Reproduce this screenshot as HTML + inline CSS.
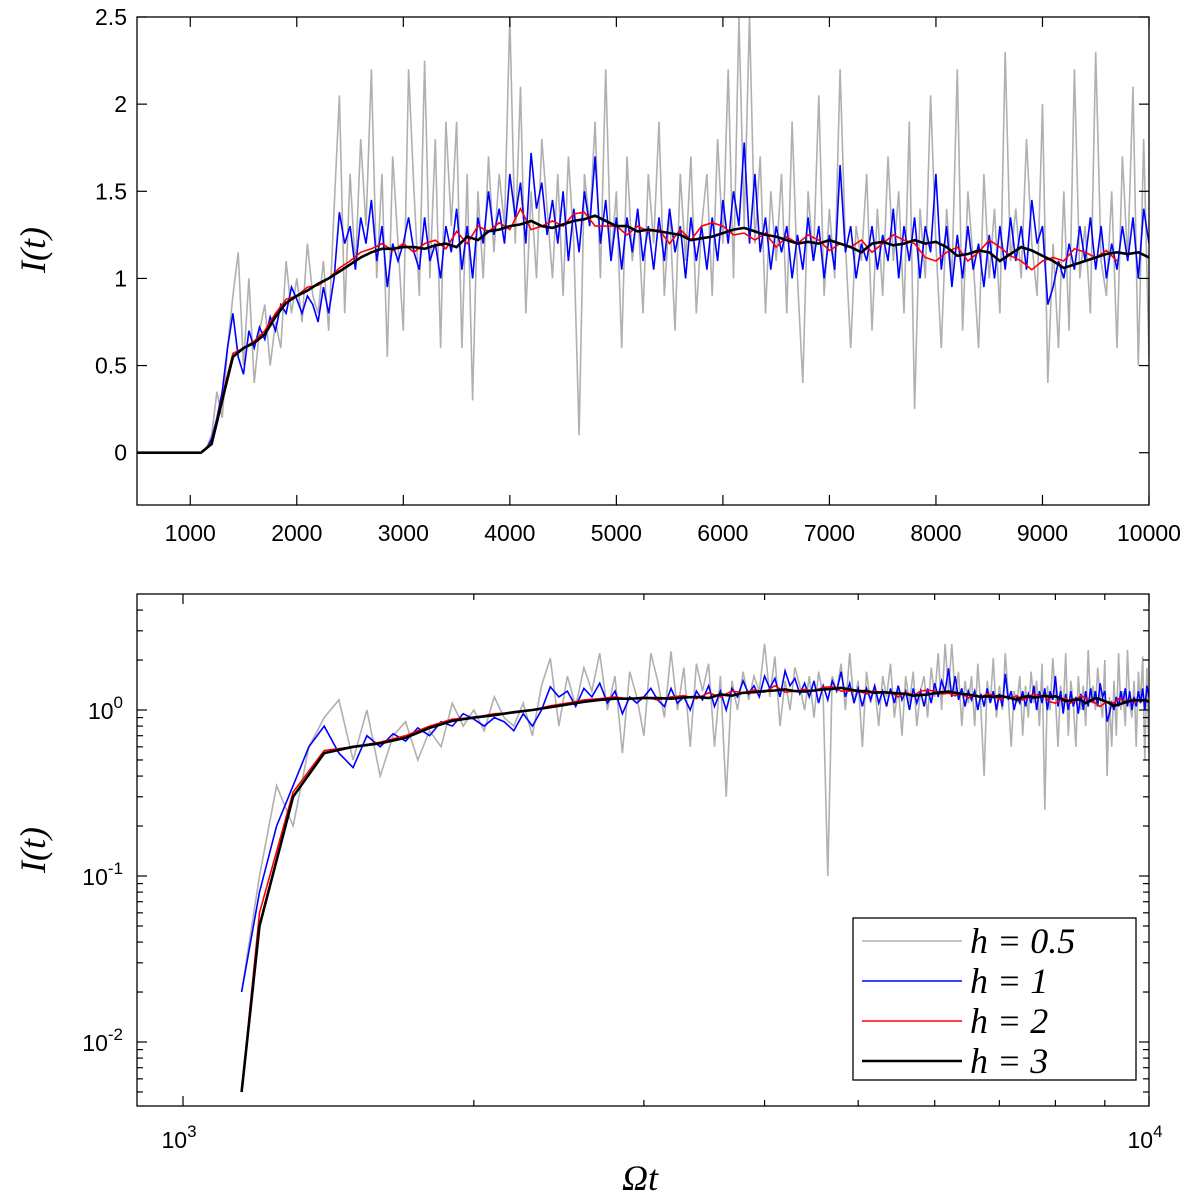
<!DOCTYPE html>
<html><head><meta charset="utf-8">
<style>
body{margin:0;background:#fff;}
svg{display:block;}
.tk{font-family:"Liberation Sans",sans-serif;font-size:23px;fill:#000;}
.lab{font-family:"Liberation Serif",serif;font-style:italic;font-size:36px;fill:#000;}
</style></head>
<body>
<svg id="chart" width="1200" height="1195" xmlns="http://www.w3.org/2000/svg"></svg>
<script>
const tStart = 500;
const grayValues = [0,0,0,0,0,0,0,0,0,0,0,0,0,
0.02,0.1,0.35,0.2,0.6,0.9,1.15,0.5,1.0,0.4,0.7,0.85,0.5,0.75,0.6,1.1,0.8,1.0,0.75,1.2,0.9,0.8,1.1,0.7,1.4,2.05,0.8,1.6,1.05,1.8,1.3,2.2,1.0,1.6,0.55,1.7,1.2,0.7,2.2,1.5,0.9,2.25,1.0,1.8,0.6,1.9,1.3,1.9,0.6,1.6,0.3,1.5,1.0,1.7,1.15,1.6,1.3,2.5,1.2,2.1,0.8,1.5,1.0,1.8,1.4,1.0,1.6,0.9,1.7,1.2,0.1,1.6,1.3,1.9,1.0,2.2,1.1,1.5,0.6,1.7,1.1,1.4,0.8,1.6,1.2,1.9,0.9,1.4,0.7,1.6,1.1,1.7,0.8,1.3,1.6,0.9,1.8,1.2,2.2,1.0,2.5,1.3,2.5,1.2,1.7,0.8,1.5,1.1,1.6,0.8,1.9,1.0,0.4,1.5,1.1,2.05,0.9,1.4,1.0,2.2,1.2,0.6,1.3,1.1,1.6,0.7,1.4,0.9,1.7,1.1,1.5,0.8,1.9,0.25,1.4,1.0,2.05,1.2,0.6,1.4,1.0,2.2,0.7,1.5,1.1,0.6,1.6,1.0,1.4,0.8,2.3,1.1,1.4,1.0,1.8,1.2,0.9,2.0,0.4,1.2,0.6,1.5,0.7,2.2,1.0,1.3,0.8,2.3,1.1,0.9,1.5,0.6,1.7,1.1,2.1,0.5,1.8,0.55];
const blueValues = [0,0,0,0,0,0,0,0,0,0,0,0,0,
0.02,0.08,0.2,0.35,0.6,0.8,0.55,0.45,0.7,0.6,0.72,0.65,0.78,0.7,0.85,0.8,0.95,0.88,0.8,0.9,0.85,0.75,0.95,0.8,1.0,1.38,1.2,1.3,1.05,1.35,1.2,1.45,1.1,1.3,0.95,1.2,1.1,1.2,1.35,1.15,1.05,1.35,1.1,1.2,1.0,1.3,1.15,1.4,1.05,1.3,1.0,1.35,1.2,1.5,1.25,1.4,1.2,1.6,1.35,1.55,1.2,1.72,1.4,1.55,1.25,1.45,1.2,1.5,1.1,1.4,1.15,1.5,1.3,1.7,1.2,1.45,1.1,1.35,1.05,1.35,1.15,1.4,1.1,1.3,1.05,1.35,1.1,1.4,1.15,1.3,1.0,1.35,1.1,1.3,1.05,1.35,1.1,1.45,1.2,1.5,1.3,1.78,1.2,1.6,1.15,1.35,1.05,1.3,1.15,1.3,1.0,1.25,1.05,1.35,1.1,1.3,1.0,1.25,1.05,1.65,1.15,1.3,1.0,1.2,1.1,1.3,1.05,1.25,1.1,1.4,1.0,1.3,1.1,1.35,1.0,1.3,1.15,1.6,1.05,1.3,0.95,1.25,1.0,1.3,1.05,1.2,0.95,1.25,1.0,1.3,1.05,1.35,1.1,1.3,1.05,1.45,1.2,1.3,0.85,0.95,1.1,1.0,1.2,1.05,1.3,1.1,1.35,1.05,1.3,1.0,1.2,1.05,1.3,1.1,1.35,1.0,1.4,1.2];
const redValues = [0,0,0,0,0,0,0,0.06,0.32,0.57,0.6,0.64,0.7,0.8,0.88,0.9,0.95,0.96,1.0,1.06,1.1,1.15,1.17,1.2,1.16,1.2,1.15,1.2,1.22,1.17,1.27,1.2,1.3,1.27,1.32,1.28,1.4,1.28,1.3,1.33,1.3,1.37,1.38,1.3,1.3,1.3,1.25,1.3,1.27,1.28,1.2,1.28,1.22,1.3,1.32,1.3,1.25,1.26,1.22,1.26,1.18,1.24,1.2,1.25,1.22,1.16,1.2,1.18,1.22,1.15,1.2,1.25,1.22,1.2,1.12,1.1,1.15,1.18,1.1,1.15,1.22,1.18,1.13,1.1,1.05,1.1,1.12,1.1,1.17,1.15,1.12,1.16,1.1];
const blackValues = [0,0,0,0,0,0,0,0.05,0.3,0.55,0.6,0.63,0.68,0.78,0.86,0.9,0.93,0.97,1.0,1.04,1.08,1.12,1.15,1.17,1.17,1.18,1.18,1.17,1.19,1.2,1.18,1.24,1.22,1.27,1.28,1.3,1.31,1.33,1.3,1.29,1.31,1.33,1.34,1.36,1.33,1.3,1.3,1.27,1.28,1.27,1.26,1.25,1.22,1.23,1.24,1.26,1.28,1.29,1.27,1.25,1.24,1.22,1.2,1.21,1.2,1.22,1.2,1.18,1.15,1.2,1.21,1.19,1.2,1.22,1.2,1.21,1.18,1.13,1.14,1.16,1.15,1.1,1.14,1.18,1.16,1.13,1.1,1.06,1.08,1.1,1.12,1.14,1.15,1.14,1.15,1.12];
const earlyT = [1150];
const earlyBlack = [0.005];
const topXTicks = [1000,2000,3000,4000,5000,6000,7000,8000,9000,10000];
const topYTicks = [0,0.5,1,1.5,2,2.5];
const topYLabels = ["0","0.5","1","1.5","2","2.5"];
const legendLabels = ["h = 0.5","h = 1","h = 2","h = 3"];

const svg = document.getElementById('chart');
const NS = 'http://www.w3.org/2000/svg';
function mk(tag, attrs, parent){const e=document.createElementNS(NS,tag);for(const k in attrs)e.setAttribute(k,attrs[k]);(parent||svg).appendChild(e);return e;}

const T = {x0:137,x1:1149,y0:17,y1:505,xmin:500,xmax:10000,ymin:-0.3,ymax:2.5};
const tx = v => T.x0+(v-T.xmin)/(T.xmax-T.xmin)*(T.x1-T.x0);
const ty = v => T.y1-(v-T.ymin)/(T.ymax-T.ymin)*(T.y1-T.y0);
const B = {x0:137,x1:1149,y0:594,y1:1106};
const bx = v => 183+(Math.log10(v)-3)*966;
const by = v => 710-Math.log10(v)*166;

const series = [
 {vals:grayValues,step:50,color:'#b0b0b0',w:1.6,name:'gray-series-h0.5'},
 {vals:blueValues,step:50,color:'#0000ff',w:1.6,name:'blue-series-h1'},
 {vals:redValues,step:100,color:'#ff0000',w:1.6,name:'red-series-h2',early:earlyBlack},
 {vals:blackValues,step:100,color:'#000000',w:2.6,name:'black-series-h3',early:earlyBlack}];

function clip(id,A){const c=mk('clipPath',{id:id});mk('rect',{x:A.x0,y:A.y0,width:A.x1-A.x0,height:A.y1-A.y0},c);}
clip('ct',T);clip('cb',B);

series.forEach(s=>{
  let d='';
  s.vals.forEach((v,i)=>{const t=tStart+i*s.step;d+=(i?'L':'M')+tx(t).toFixed(1)+','+ty(v).toFixed(1);});
  const p=mk('path',{d:d,fill:'none',stroke:s.color,'stroke-width':s.w,'clip-path':'url(#ct)'});
  
  
  const pts=[];
  if(s.early) s.early.forEach((v,i)=>pts.push([earlyT[i],v]));
  s.vals.forEach((v,i)=>{const t=tStart+i*s.step;if(v>0)pts.push([t,v]);});
  pts.sort((a,b)=>a[0]-b[0]);
  let d2='';
  pts.forEach((q,i)=>{d2+=(i?'L':'M')+bx(q[0]).toFixed(1)+','+by(q[1]).toFixed(1);});
  const p2=mk('path',{d:d2,fill:'none',stroke:s.color,'stroke-width':s.w,'clip-path':'url(#cb)'});
  
  
});

function frame(A,name){const r=mk('rect',{x:A.x0,y:A.y0,width:A.x1-A.x0,height:A.y1-A.y0,fill:'none',stroke:'#000','stroke-width':1.3});
 }
frame(T,'top-axes-frame');frame(B,'bottom-axes-frame');

function tick(x1,y1,x2,y2){mk('line',{x1:x1,y1:y1,x2:x2,y2:y2,stroke:'#000','stroke-width':1.2});}
function text(x,y,s,cls,anchor,name){const t=mk('text',{x:x,y:y,class:cls,'text-anchor':anchor||'middle'});t.textContent=s;return t;}

topXTicks.forEach(v=>{const x=tx(v);tick(x,T.y1,x,T.y1-10);tick(x,T.y0,x,T.y0+10);text(x,T.y1+36,String(v),'tk','middle','top-x-tick-label');});
topYTicks.forEach((v,i)=>{const y=ty(v);tick(T.x0,y,T.x0+10,y);tick(T.x1,y,T.x1-10,y);text(T.x0-10,y+8,topYLabels[i],'tk','end','top-y-tick-label');});
text(45,250,'I(t)','lab','middle','top-y-axis-title').setAttribute('transform','rotate(-90 45 250)');

for(let d=1;d<=10;d++){const v=d*1000;const x=bx(v);const L=(d===1||d===10)?10:6;tick(x,B.y1,x,B.y1-L);tick(x,B.y0,x,B.y0+L);}
[-3,-2,-1,0].forEach(e=>{for(let m=1;m<10;m++){const v=m*Math.pow(10,e);const y=by(v);if(y<B.y0||y>B.y1)continue;const L=m===1?10:6;tick(B.x0,y,B.x0+L,y);tick(B.x1,y,B.x1-L,y);}});
[0,-1,-2].forEach(e=>{const y=by(Math.pow(10,e));const t=text(B.x0-14,y+9,'10','tk','end','bottom-y-tick-label');const s=mk('tspan',{dy:-11,'font-size':17},t);s.textContent=String(e);});
[[1000,'3'],[10000,'4']].forEach(([v,e])=>{const t=text(bx(v)-4,1148,'10','tk','middle','bottom-x-tick-label');const s=mk('tspan',{dy:-11,'font-size':17},t);s.textContent=e;});
text(45,850,'I(t)','lab','middle','bottom-y-axis-title').setAttribute('transform','rotate(-90 45 850)');
text(640,1190,'Ωt','lab','middle','x-axis-title');

const lg=mk('g',{});
mk('rect',{x:853,y:918,width:283,height:162,fill:'#fff',stroke:'#000','stroke-width':1.3},lg);
legendLabels.forEach((s,i)=>{const y=941+i*40;
 const l=mk('line',{x1:862,y1:y,x2:962,y2:y,stroke:series[i].color,'stroke-width':series[i].w},lg);
 
 const t=mk('text',{x:970,y:y+12,class:'lab','font-size':38},lg);t.textContent=s;
 });
</script>
</body></html>
